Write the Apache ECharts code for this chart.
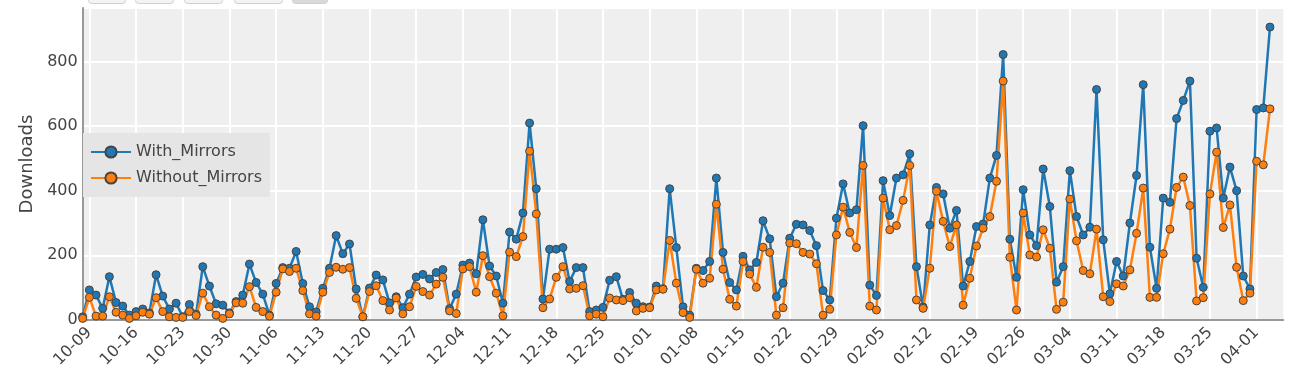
<!DOCTYPE html>
<html>
<head>
<meta charset="utf-8">
<script src="https://cdn.jsdelivr.net/npm/echarts@6/dist/echarts.min.js"></script>
<style>
html,body{margin:0;padding:0;background:#fff;}
#chart{width:1310px;height:381px;}
</style>
</head>
<body>
<div id="chart"></div>
<script>
// Daily categories: 2023-10-08 .. 2024-04-05 (MM-DD)
const startDate = Date.UTC(2023, 9, 8);
const dayCount = 181;
const categories = [];
for (let i = 0; i < dayCount; i++) {
  const d = new Date(startDate + i * 86400000);
  categories.push(String(d.getUTCMonth() + 1).padStart(2, '0') + '-' + String(d.getUTCDate()).padStart(2, '0'));
}

const tickLabels = ['10-09','10-16','10-23','10-30','11-06','11-13','11-20','11-27','12-04','12-11','12-18','12-25',
  '01-01','01-08','01-15','01-22','01-29','02-05','02-12','02-19','02-26','03-04','03-11','03-18','03-25','04-01'];

const withMirrors = [
  10,93,77,36,134,54,43,15,26,34,22,140,74,34,52,10,48,18,165,105,
  50,46,22,57,77,173,116,80,15,113,162,160,212,113,41,25,98,160,261,205,
  235,96,10,99,139,124,53,72,38,80,133,141,127,147,156,35,80,170,176,143,
  310,167,136,52,272,250,331,609,406,65,219,219,224,119,162,162,26,31,39,123,
  134,64,85,52,41,40,105,97,406,224,41,15,160,153,181,439,209,116,93,197,
  155,178,307,251,72,114,253,296,294,277,230,91,62,315,421,331,341,601,108,76,
  431,323,439,449,514,165,40,294,410,390,284,339,105,181,289,297,439,509,821,250,
  132,403,263,230,467,351,117,165,462,320,263,287,713,248,81,181,136,300,447,728,
  225,98,377,364,623,679,739,191,101,584,594,377,473,400,136,96,651,656,906
];

const withoutMirrors = [
  5,70,12,12,72,24,15,5,13,24,18,69,26,10,8,8,26,14,83,41,
  15,5,19,53,52,103,39,26,12,86,158,150,160,91,19,12,86,147,163,157,
  162,67,10,88,106,60,31,68,19,41,104,88,77,111,132,28,20,158,165,86,
  199,134,83,13,210,196,258,522,328,38,65,132,165,96,98,106,13,18,10,68,
  62,60,69,28,36,38,93,95,246,114,23,8,157,114,129,358,157,64,43,181,
  142,101,225,209,15,38,238,236,209,204,174,15,33,263,349,271,224,478,43,31,
  377,279,292,370,478,62,36,160,398,305,227,294,46,129,229,284,320,429,739,194,
  31,331,201,195,279,222,33,55,374,245,153,143,281,72,57,112,105,155,268,408,
  70,70,205,281,410,442,354,59,69,390,519,286,356,163,60,83,491,480,653
];

const FONT = 'DejaVu Sans';
const TXT = '#444';
const isTick = (idx, val) => tickLabels.indexOf(categories[idx]) >= 0;

const chart = echarts.init(document.getElementById('chart'), null, {renderer: 'canvas'});

const btns = [[88,37,'#f3f3f3'],[135,38,'#f3f3f3'],[184,38,'#f3f3f3'],[234,48,'#f3f3f3'],[292,35,'#d9d9d9']];
const graphics = btns.map(b => ({
  type: 'rect', left: b[0], top: -12, z: 10,
  shape: {width: b[1], height: 15, r: 3},
  style: {fill: b[2], stroke: '#d0d0d0', lineWidth: 1}
}));

chart.setOption({
  animation: false,
  backgroundColor: '#ffffff',
  textStyle: {fontFamily: FONT},
  graphic: graphics,
  grid: {left: 82.7, right: 26.7, top: 8, bottom: 61, show: true, backgroundColor: '#efefef', borderWidth: 0},
  legend: {
    orient: 'vertical', left: 83, top: 133,
    backgroundColor: '#e5e5e5', borderWidth: 0,
    padding: [11, 8, 11, 7],
    itemWidth: 40, itemHeight: 14, itemGap: 10,
    textStyle: {fontFamily: FONT, fontSize: 16, color: TXT},
    data: ['With_Mirrors', 'Without_Mirrors']
  },
  xAxis: {
    type: 'category', data: categories, boundaryGap: false,
    axisLine: {show: true, lineStyle: {color: '#999', width: 2}},
    axisTick: {show: false},
    axisLabel: {interval: isTick, rotate: 45, fontFamily: FONT, fontSize: 16, color: TXT, margin: 10},
    splitLine: {show: true, interval: isTick, lineStyle: {color: '#ffffff', width: 2}}
  },
  yAxis: {
    type: 'value', min: 0, max: 965, interval: 200,
    name: 'Downloads', nameLocation: 'middle', nameGap: 46,
    nameTextStyle: {fontFamily: FONT, fontSize: 18, color: TXT},
    axisLine: {show: true, lineStyle: {color: '#999', width: 2}},
    axisTick: {show: false},
    axisLabel: {fontFamily: FONT, fontSize: 16, color: TXT, margin: 5, showMaxLabel: false,
      formatter: v => (v % 200 === 0 ? String(v) : '')},
    splitLine: {show: true, lineStyle: {color: '#ffffff', width: 2}}
  },
  series: [
    {
      name: 'With_Mirrors', type: 'line', data: withMirrors,
      symbol: 'circle', symbolSize: 8, showAllSymbol: true,
      lineStyle: {color: '#1f77b4', width: 2.5},
      itemStyle: {color: '#1f77b4', borderColor: '#444', borderWidth: 1}
    },
    {
      name: 'Without_Mirrors', type: 'line', data: withoutMirrors,
      symbol: 'circle', symbolSize: 8, showAllSymbol: true,
      lineStyle: {color: '#ff7f0e', width: 2.5},
      itemStyle: {color: '#ff7f0e', borderColor: '#444', borderWidth: 1}
    }
  ]
});
</script>
</body>
</html>
